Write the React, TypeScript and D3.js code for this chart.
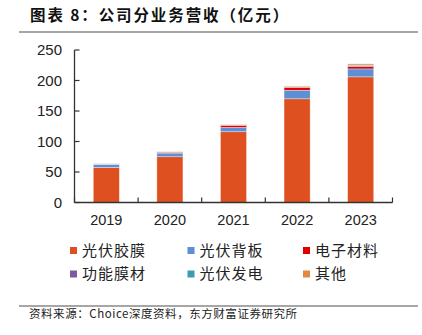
import React from 'react';
import * as d3 from 'd3';

const years = ['2019', '2020', '2021', '2022', '2023'];
const seriesNames = ['光伏胶膜', '光伏背板', '电子材料', '功能膜材', '光伏发电', '其他'];
const filmValues = [57.5, 75, 116, 170, 206];
const backsheetValues = [5, 6, 7, 14, 13];
const electronicValues = [0.3, 1.5, 3.5, 4.5, 4];
const functionalValues = [0.2, 0.3, 0.6, 1.0, 1.5];
const pvPowerValues = [0.3, 0.3, 0.4, 0.5, 0.8];
const otherValues = [0.7, 0.6, 0.8, 1.0, 2.0];
const yTicks = [0, 50, 100, 150, 200, 250];
const colors = ['#DF5020', '#5B8FD6', '#E00000', '#7B5A9E', '#3F9AAE', '#E28A44'];

const W = 422, H = 335;
const cjk = '"Noto Sans CJK SC", "Noto Sans", sans-serif';
const latin = '"Liberation Sans", Arial, sans-serif';

export default function App() {
  const allSeries = [filmValues, backsheetValues, electronicValues, functionalValues, pvPowerValues, otherValues];
  const rows = years.map((y, i) => {
    const r: any = { year: y };
    seriesNames.forEach((n, k) => { r[n] = allSeries[k][i]; });
    return r;
  });
  const stacked = d3.stack().keys(seriesNames)(rows);

  const x = d3.scaleBand().domain(years).range([74.5, 392.5]).paddingInner(0.59).paddingOuter(0.295);
  const y = d3.scaleLinear().domain([0, 250]).range([202.5, 50]);
  const step = x.step();
  const x0 = 74.5;

  const legendCols = [70, 187.5, 303];
  const legendRows = [250.5, 274];

  return (
    <svg width={W} height={H} style={{ position: 'fixed', left: 0, top: 0, background: '#fff' }}>
      <text x={30} y={21} fontFamily={cjk} fontSize={15.5} fontWeight={700} letterSpacing={1.9} fill="#111">图表 8：公司分业务营收（亿元）</text>
      <line x1={19} x2={418} y1={32} y2={32} stroke="#888" strokeWidth={1.5} />

      {stacked.map((layer, k) => (
        <g key={k} fill={colors[k]}>
          {layer.map((d, i) => (
            <rect key={i} x={x(years[i])!} width={x.bandwidth()} y={y(d[1])} height={Math.max(0, y(d[0]) - y(d[1]))}
              stroke="#fff" strokeOpacity={0.6} strokeWidth={0.6} />
          ))}
        </g>
      ))}

      {/* axes */}
      <line x1={x0} x2={x0} y1={y(250)} y2={y(0)} stroke="#333" strokeWidth={1.3} />
      <line x1={x0} x2={392.5} y1={y(0)} y2={y(0)} stroke="#333" strokeWidth={1.3} />
      {yTicks.map(t => (
        <g key={t}>
          <line x1={x0} x2={x0 + 5} y1={y(t)} y2={y(t)} stroke="#333" strokeWidth={1.2} />
          <text x={62} y={y(t)} dy="0.36em" textAnchor="end" fontFamily={latin} fontSize={15} fill="#222">{t}</text>
        </g>
      ))}
      {d3.range(years.length + 1).map(i => (
        <line key={i} x1={x0 + i * step} x2={x0 + i * step} y1={y(0)} y2={y(0) - 5} stroke="#333" strokeWidth={1.2} />
      ))}
      {years.map(yr => (
        <text key={yr} x={x(yr)! + x.bandwidth() / 2} y={225} textAnchor="middle" fontFamily={latin} fontSize={14.5} fill="#222">{yr}</text>
      ))}

      {/* legend */}
      {seriesNames.map((n, k) => {
        const cx = legendCols[k % 3];
        const cy = legendRows[Math.floor(k / 3)];
        return (
          <g key={n}>
            <rect x={cx} y={cy - 3.5} width={7} height={7} fill={colors[k]} />
            <text x={cx + 12} y={cy} dy="0.36em" fontFamily={cjk} fontSize={15} letterSpacing={1} fill="#222">{n}</text>
          </g>
        );
      })}

      <line x1={19} x2={418} y1={306} y2={306} stroke="#888" strokeWidth={1.5} />
      <text x={29} y={318} fontFamily={cjk} fontSize={11.5} letterSpacing={0.55} fill="#222">资料来源：Choice深度资料，东方财富证券研究所</text>
    </svg>
  );
}
